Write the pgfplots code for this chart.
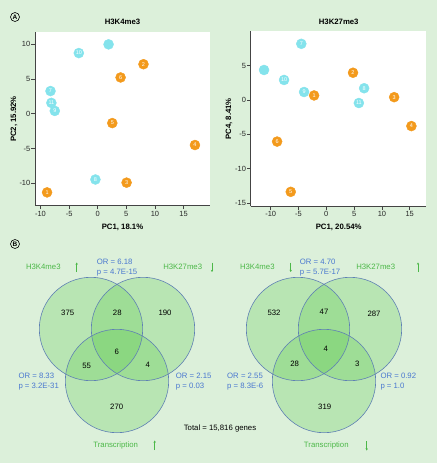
\documentclass[border=0pt]{standalone}
\usepackage{pgfplots}
\pgfplotsset{compat=1.18}
\usepackage{fontspec}
\setmainfont{Liberation Sans}
\setsansfont{Liberation Sans}
\usetikzlibrary{arrows.meta}
\definecolor{bg}{HTML}{DCF0DA}
\definecolor{cy}{HTML}{84E3EC}
\definecolor{orn}{HTML}{F39A1C}
\definecolor{vblue}{HTML}{4A78D0}
\definecolor{vgreen}{HTML}{4CB848}
\definecolor{vline}{HTML}{5F80B4}
\definecolor{vfill}{HTML}{5CCB4E}
\definecolor{axgray}{HTML}{444444}

\pgfplotstableread{
x y l
-3.3 8.7 10
-8.25 3.25 7
-8.1 1.55 11
-7.5 0.4 9
-0.4 -9.45 8
}\cyanA
\pgfplotstableread{
x y l
8.0 7.1 2
4.0 5.2 6
2.55 -1.35 5
17.0 -4.5 4
5.05 -9.9 3
-8.85 -11.3 1
}\orangeA
\pgfplotstableread{
x y l
-4.5 8.15 7
-7.6 2.9 10
-4.0 1.15 9
6.8 1.7 8
5.85 -0.45 11
}\cyanB
\pgfplotstableread{
x y l
-2.2 0.65 1
4.8 3.95 2
12.2 0.4 3
15.3 -3.8 4
-8.85 -6.05 6
-6.4 -13.35 5
}\orangeB
% Venn counts, in picture pixel coordinates
\pgfplotstableread{
x y l
67.7 313.3 375
117.3 313.3 28
165 313.3 190
116.7 352 6
86.7 366 55
147.7 365.3 4
116.7 407 270
274 313.3 532
324 311.7 47
374 314.3 287
325.7 349 4
294.7 364 28
357.3 364 3
324.7 407 319
}\venncounts

\pgfplotsset{
  pcastyle/.style={
    scale only axis,
    anchor=south west,
    axis x line*=bottom,
    axis y line*=left,
    axis line style={-, axgray, line width=0.7bp},
    axis background/.style={fill=white},
    tick align=outside,
    major tick length=3.5bp,
    tick style={axgray, line width=0.7bp},
    tick label style={font=\fontsize{7.5}{9}\selectfont, text=black!85},
    yticklabel style={inner sep=1bp},
    xticklabel style={inner sep=1.5bp},
    /pgf/number format/assume math mode=true,
    clip=false,
  },
  dots/.style={
    only marks, mark=*, mark size=5bp,
    mark options={draw=#1, fill=#1},
    nodes near coords, point meta=explicit symbolic,
    every node near coord/.append style={anchor=center, text=white,
      font=\fontsize{5.5}{6}\selectfont, inner sep=0pt},
  },
}

\begin{document}
\begin{tikzpicture}[font=\fontsize{7.8}{9.4}\selectfont]
% ---------- canvas: background, labels, Venn diagrams ----------
\begin{axis}[at={(0,0)}, anchor=south west, width=437bp, height=463bp,
  scale only axis, xmin=0, xmax=437, ymin=0, ymax=463, y dir=reverse,
  hide axis, clip=false]
\fill[bg] (axis cs:0,0) rectangle (axis cs:437,463);
% panel letters
\node[circle, draw, line width=0.6bp, inner sep=0pt, minimum size=9bp, font=\bfseries\fontsize{6.5}{7}\selectfont] at (axis cs:15,17) {A};
\node[circle, draw, line width=0.6bp, inner sep=0pt, minimum size=9bp, font=\bfseries\fontsize{6.5}{7}\selectfont] at (axis cs:15,244) {B};
% PCA titles and axis labels
\node[font=\bfseries\fontsize{7.8}{9}\selectfont] at (axis cs:122.5,22) {H3K4me3};
\node[font=\bfseries\fontsize{7.8}{9}\selectfont] at (axis cs:122.5,227.5) {PC1, 18.1\%};
\node[font=\bfseries\fontsize{7.8}{9}\selectfont, rotate=90] at (axis cs:14,119) {PC2, 15.92\%};
\node[font=\bfseries\fontsize{7.8}{9}\selectfont] at (axis cs:338.7,22) {H3K27me3};
\node[font=\bfseries\fontsize{7.8}{9}\selectfont] at (axis cs:338.7,227.5) {PC1, 20.54\%};
\node[font=\bfseries\fontsize{7.8}{9}\selectfont, rotate=90] at (axis cs:229,119) {PC4, 8.41\%};
% Venn fills
\fill[vfill, opacity=0.28] (axis cs:91,329) circle[radius=51.7bp];
\fill[vfill, opacity=0.28] (axis cs:143,329) circle[radius=51.7bp];
\fill[vfill, opacity=0.28] (axis cs:117,381) circle[radius=51.7bp];
\fill[vfill, opacity=0.28] (axis cs:298,329) circle[radius=51.7bp];
\fill[vfill, opacity=0.28] (axis cs:350,329) circle[radius=51.7bp];
\fill[vfill, opacity=0.28] (axis cs:324,381) circle[radius=51.7bp];
% Venn outlines
\draw[vline, line width=0.6bp] (axis cs:91,329) circle[radius=51.7bp];
\draw[vline, line width=0.6bp] (axis cs:143,329) circle[radius=51.7bp];
\draw[vline, line width=0.6bp] (axis cs:117,381) circle[radius=51.7bp];
\draw[vline, line width=0.6bp] (axis cs:298,329) circle[radius=51.7bp];
\draw[vline, line width=0.6bp] (axis cs:350,329) circle[radius=51.7bp];
\draw[vline, line width=0.6bp] (axis cs:324,381) circle[radius=51.7bp];
% counts
\addplot[draw=none, nodes near coords, point meta=explicit symbolic,
  every node near coord/.append style={anchor=center, text=black, inner sep=0pt}]
  table[meta=l] {\venncounts};
% odds ratios (left)
\node[vblue, anchor=base west, inner sep=0pt] at (axis cs:96.7,264.5) {OR = 6.18};
\node[vblue, anchor=base west, inner sep=0pt] at (axis cs:96.7,274.5) {p = 4.7E-15};
\node[vblue, anchor=base west, inner sep=0pt] at (axis cs:18.3,378.8) {OR = 8.33};
\node[vblue, anchor=base west, inner sep=0pt] at (axis cs:18.3,388.8) {p = 3.2E-31};
\node[vblue, anchor=base west, inner sep=0pt] at (axis cs:175.7,378.8) {OR = 2.15};
\node[vblue, anchor=base west, inner sep=0pt] at (axis cs:175.7,388.8) {p = 0.03};
% odds ratios (right)
\node[vblue, anchor=base west, inner sep=0pt] at (axis cs:299.7,264.5) {OR = 4.70};
\node[vblue, anchor=base west, inner sep=0pt] at (axis cs:299.7,274.5) {p = 5.7E-17};
\node[vblue, anchor=base west, inner sep=0pt] at (axis cs:227,378.8) {OR = 2.55};
\node[vblue, anchor=base west, inner sep=0pt] at (axis cs:227,388.8) {p = 8.3E-6};
\node[vblue, anchor=base west, inner sep=0pt] at (axis cs:380.3,378.8) {OR = 0.92};
\node[vblue, anchor=base west, inner sep=0pt] at (axis cs:380.3,388.8) {p = 1.0};
% set labels
\node[vgreen] at (axis cs:43.3,267.3) {H3K4me3};
\node[vgreen] at (axis cs:182.7,267.3) {H3K27me3};
\node[vgreen] at (axis cs:115.7,445.3) {Transcription};
\node[vgreen] at (axis cs:257.3,267.3) {H3K4me3};
\node[vgreen] at (axis cs:375.7,267.3) {H3K27me3};
\node[vgreen] at (axis cs:326.3,445.7) {Transcription};
% arrows
\draw[vgreen, line width=0.7bp, -{Stealth[length=2.2bp,width=2.4bp]}] (axis cs:76.7,272) -- (axis cs:76.7,262.5);
\draw[vgreen, line width=0.7bp, -{Stealth[length=2.2bp,width=2.4bp]}] (axis cs:212,262.5) -- (axis cs:212,272);
\draw[vgreen, line width=0.7bp, -{Stealth[length=2.2bp,width=2.4bp]}] (axis cs:154.7,450) -- (axis cs:154.7,440.5);
\draw[vgreen, line width=0.7bp, -{Stealth[length=2.2bp,width=2.4bp]}] (axis cs:290.7,262.5) -- (axis cs:290.7,272);
\draw[vgreen, line width=0.7bp, -{Stealth[length=2.2bp,width=2.4bp]}] (axis cs:418,272) -- (axis cs:418,262.5);
\draw[vgreen, line width=0.7bp, -{Stealth[length=2.2bp,width=2.4bp]}] (axis cs:366.7,441) -- (axis cs:366.7,450.5);
% total
\node at (axis cs:220,428.3) {Total = 15,816 genes};
\end{axis}

% ---------- PCA H3K4me3 ----------
\begin{axis}[pcastyle, at={(35bp,257.3bp)}, width=175bp, height=174bp,
  xmin=-10.96, xmax=19.63, ymin=-13.21, ymax=11.77,
  xtick={-10,-5,0,5,10,15}, ytick={-10,-5,0,5,10}]
\addplot[only marks, mark=*, mark size=5bp, mark options={draw=cy, fill=cy}] coordinates {(1.9,9.95)};
\addplot[dots=cy] table[meta=l] {\cyanA};
\addplot[dots=orn] table[meta=l] {\orangeA};
\end{axis}

% ---------- PCA H3K27me3 ----------
\begin{axis}[pcastyle, at={(250.7bp,256.5bp)}, width=175.6bp, height=175bp,
  xmin=-13.6, xmax=17.98, ymin=-15.48, ymax=9.94,
  xtick={-10,-5,0,5,10,15}, ytick={-15,-10,-5,0,5}]
\addplot[only marks, mark=*, mark size=5bp, mark options={draw=cy, fill=cy}] coordinates {(-11.2,4.35)};
\addplot[dots=cy] table[meta=l] {\cyanB};
\addplot[dots=orn] table[meta=l] {\orangeB};
\end{axis}
\end{tikzpicture}
\end{document}
